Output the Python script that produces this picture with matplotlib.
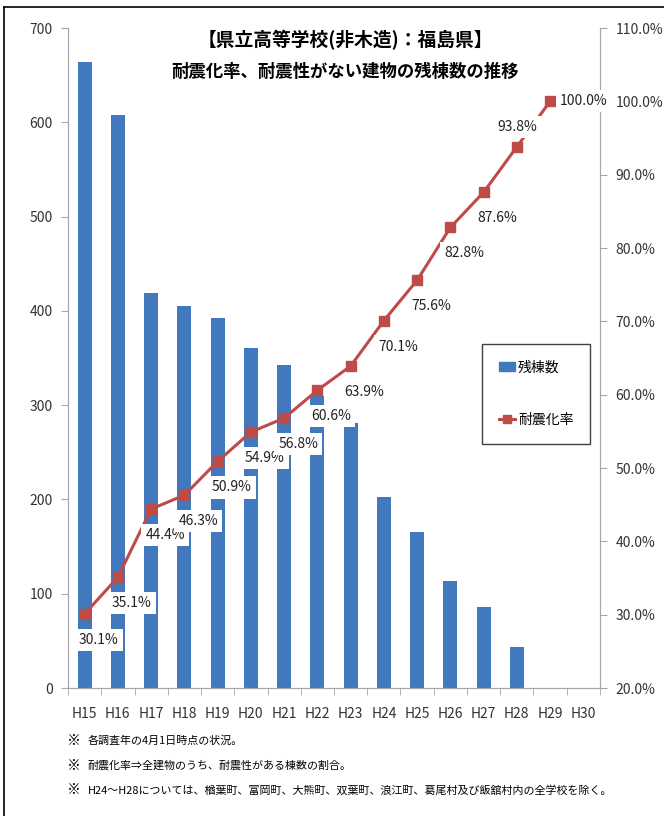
import matplotlib
matplotlib.use("Agg")
import matplotlib.pyplot as plt
from matplotlib.lines import Line2D
from matplotlib.patches import Patch

plt.rcParams['font.family'] = ['Noto Sans CJK JP', 'DejaVu Sans']

# データ
years = ['H15', 'H16', 'H17', 'H18', 'H19', 'H20', 'H21', 'H22',
         'H23', 'H24', 'H25', 'H26', 'H27', 'H28', 'H29', 'H30']
remaining = [664, 608, 419, 405, 392, 361, 343, 310,
             281, 203, 165, 114, 86, 43, 0, 0]
rate = [30.1, 35.1, 44.4, 46.3, 50.9, 54.9, 56.8, 60.6,
        63.9, 70.1, 75.6, 82.8, 87.6, 93.8, 100.0]

notes = ['各調査年の4月1日時点の状況。',
         '耐震化率⇒全建物のうち、耐震性がある棟数の割合。',
         'H24～H28については、楢葉町、富岡町、大熊町、双葉町、浪江町、葛尾村及び飯舘村内の全学校を除く。']

bar_color = '#4178be'
line_color = '#be4b48'
spine_color = '#a6a6a6'
num_font = ['Liberation Sans Narrow', 'Noto Sans CJK JP', 'DejaVu Sans']

fig = plt.figure(figsize=(6.64, 8.16), dpi=100)
ax = fig.add_axes([68 / 664, 1 - 688 / 816, 532 / 664, 660 / 816])
ax2 = ax.twinx()

x = list(range(len(years)))
ax.bar(x, remaining, width=0.42, color=bar_color, zorder=2)
ax.set_ylim(0, 700)
ax.set_yticks(range(0, 701, 100))
ax.set_xlim(-0.5, len(years) - 0.5)
ax.set_xticks(x)
ax.set_xticklabels(years)
ax.set_xticks([i - 0.5 for i in range(len(years) + 1)], minor=True)
ax.tick_params(axis='x', which='major', length=0, pad=14, labelsize=10, colors='#333333')
ax.tick_params(axis='x', which='minor', length=5, color=spine_color)
ax.tick_params(axis='y', length=5, color=spine_color, labelsize=10, colors='#333333', pad=6)

line_x = x[:len(rate)]
ax2.plot(line_x, rate, color=line_color, lw=2.2, marker='s', markersize=6.5, zorder=3)
ax2.set_ylim(20, 110)
ax2.set_yticks(range(20, 111, 10))
ax2.set_yticklabels([f'{v:.1f}%' for v in range(20, 111, 10)])
ax2.tick_params(axis='y', length=5, color=spine_color, labelsize=10, colors='#333333', pad=6)

for a in (ax, ax2):
    a.spines['top'].set_visible(False)
    for s in ('left', 'right', 'bottom'):
        a.spines[s].set_color(spine_color)
    for lab in a.get_xticklabels() + a.get_yticklabels():
        lab.set_family(num_font)

# データラベル
for i, (xi, r) in enumerate(zip(line_x, rate)):
    if i == len(rate) - 1:
        off, ha = (10, 0), 'left'
    elif i == len(rate) - 2:
        off, ha = (0, 20), 'center'
    else:
        off, ha = (14, -26), 'center'
    ax2.annotate(f'{r:.1f}%', (xi, r), xytext=off, textcoords='offset pixels',
                 ha=ha, va='center', fontsize=10, family=num_font, color='#222222',
                 bbox=dict(boxstyle='square,pad=0.3', fc='white', ec='none'), zorder=5)

# 凡例
handles = [Patch(color=bar_color),
           Line2D([], [], color=line_color, lw=2.2, marker='s', markersize=6)]
leg = ax2.legend(handles, ['残棟数', '耐震化率'], loc='lower left',
                 bbox_to_anchor=(0.778, 0.37), fontsize=10, labelspacing=2.8,
                 handlelength=1.2, handletextpad=0.2, borderpad=1.2, borderaxespad=0,
                 fancybox=False, framealpha=1, edgecolor='#404040')
leg.get_frame().set_linewidth(1.0)

# タイトル
fig.text(0.52, 1 - 40 / 816, '【県立高等学校(非木造)：福島県】', ha='center', va='center',
         fontsize=13.5, fontweight='bold')
fig.text(0.52, 1 - 72 / 816, '耐震化率、耐震性がない建物の残棟数の推移', ha='center', va='center',
         fontsize=12.5, fontweight='bold')

# 注記
for k, t in enumerate(notes):
    y = 1 - (741 + 24.5 * k) / 816
    fig.text(67 / 664, y, '※', ha='left', va='center', fontsize=10)
    fig.text(88 / 664, y, t, ha='left', va='center', fontsize=7.9)

# 外枠
fig.add_artist(Line2D([4 / 664, 4 / 664], [0, 1 - 7 / 816], color='black', lw=1.2))
fig.add_artist(Line2D([4 / 664, 1], [1 - 7 / 816, 1 - 7 / 816], color='black', lw=1.2))

fig.savefig('out.png', dpi=100)
